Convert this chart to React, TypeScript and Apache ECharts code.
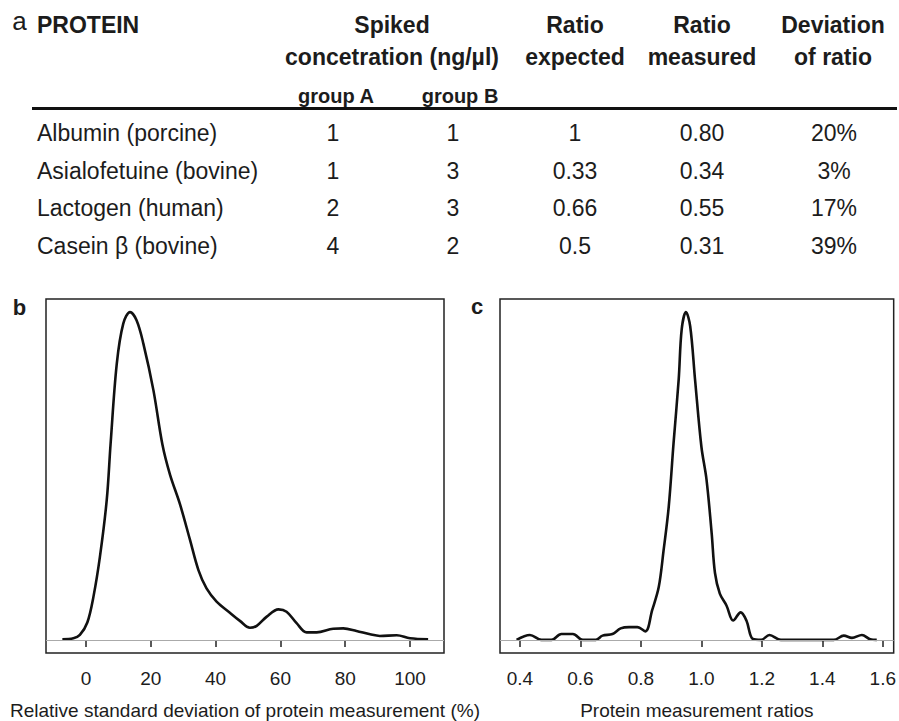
import React, { useEffect, useRef } from "react";
import * as echarts from "echarts";

const FONT = '"Liberation Sans", Arial, Helvetica, sans-serif';
const INK = "#1c1c1c";

// ---- Table (panel a) ----
const proteins = ["Albumin (porcine)", "Asialofetuine (bovine)", "Lactogen (human)", "Casein β (bovine)"];
const groupA = ["1", "1", "2", "4"];
const groupB = ["1", "3", "3", "2"];
const ratioExpected = ["1", "0.33", "0.66", "0.5"];
const ratioMeasured = ["0.80", "0.34", "0.55", "0.31"];
const ratioDeviation = ["20%", "3%", "17%", "39%"];
const headerLine1 = ["Spiked", "Ratio", "Ratio", "Deviation"];
const headerLine2 = ["concetration (ng/µl)", "expected", "measured", "of ratio"];
const subHeaders = ["group A", "group B"];

// ---- Panel b: density of relative standard deviation (%) ----
const rsdX = [-7.3, -3.9, -1.9, 0.4, 2.3, 4.3, 6.4, 7.6, 9.5, 11.5, 13.6, 15.6, 17.7, 20.8, 23.6, 25.9, 29.0, 32.1, 34.7, 37.2, 40.3, 44.4, 47.5, 50.6, 52.7, 55.8, 59.4, 61.9, 65.0, 68.1, 71.2, 76.3, 79.4, 83.5, 87.7, 90.7, 95.9, 100.0, 105.6];
const rsdDensity = [0.002, 0.005, 0.015, 0.053, 0.132, 0.254, 0.427, 0.6, 0.843, 0.965, 1.0, 0.975, 0.904, 0.762, 0.595, 0.505, 0.414, 0.305, 0.213, 0.157, 0.117, 0.083, 0.058, 0.037, 0.043, 0.071, 0.093, 0.086, 0.051, 0.023, 0.023, 0.034, 0.035, 0.027, 0.017, 0.012, 0.014, 0.005, 0.002];
const rsdTicks = [0, 20, 40, 60, 80, 100];

// ---- Panel c: density of protein measurement ratios ----
const ratioX = [0.389, 0.433, 0.471, 0.504, 0.537, 0.575, 0.608, 0.651, 0.673, 0.706, 0.733, 0.761, 0.788, 0.815, 0.837, 0.859, 0.875, 0.892, 0.908, 0.925, 0.935, 0.949, 0.963, 0.979, 1.0, 1.017, 1.034, 1.045, 1.061, 1.083, 1.105, 1.13, 1.149, 1.17, 1.198, 1.225, 1.263, 1.438, 1.471, 1.498, 1.531, 1.558, 1.58];
const ratioDensity = [0, 0.015, 0, 0, 0.018, 0.018, 0, 0, 0.013, 0.018, 0.035, 0.039, 0.039, 0.026, 0.09, 0.161, 0.273, 0.406, 0.6, 0.795, 0.948, 1.0, 0.957, 0.795, 0.59, 0.489, 0.326, 0.204, 0.141, 0.105, 0.059, 0.084, 0.059, 0.003, 0, 0.015, 0, 0, 0.013, 0.006, 0.015, 0.002, 0];
const ratioTicks = [0.4, 0.6, 0.8, 1.0, 1.2, 1.4, 1.6];

function txt(text: string, x: number, y: number, size: number, weight: string, align: string = "center") {
  return {
    type: "text",
    x,
    y,
    silent: true,
    style: {
      text,
      fontFamily: FONT,
      fontSize: size,
      fontWeight: weight,
      fill: INK,
      align,
      verticalAlign: "middle",
    },
  };
}

export default function App() {
  const ref = useRef<HTMLDivElement>(null);

  useEffect(() => {
    if (!ref.current) return;
    const chart = echarts.init(ref.current, undefined, { renderer: "svg" });

    const colX = [333, 453, 575, 702, 834];
    const headX = [392, 575, 702, 833];
    const rowY0 = 133;
    const rowStep = 37.7;

    const graphics: any[] = [];
    graphics.push(txt("a", 19.5, 21, 26, "normal"));
    graphics.push(txt("PROTEIN", 37, 24.5, 23, "bold", "left"));
    headerLine1.forEach((h, i) => graphics.push(txt(h, headX[i], 24.5, 23, "bold")));
    headerLine2.forEach((h, i) => graphics.push(txt(h, headX[i], 57, 23, "bold")));
    subHeaders.forEach((h, i) => graphics.push(txt(h, i === 0 ? 336 : 460, 96, 20, "bold")));
    graphics.push({
      type: "line",
      silent: true,
      shape: { x1: 32, y1: 108.5, x2: 897, y2: 108.5 },
      style: { stroke: "#111", lineWidth: 3 },
    });
    proteins.forEach((p, r) => {
      const y = rowY0 + r * rowStep;
      graphics.push(txt(p, 37, y, 23, "normal", "left"));
      const cells = [groupA[r], groupB[r], ratioExpected[r], ratioMeasured[r], ratioDeviation[r]];
      cells.forEach((c, k) => graphics.push(txt(c, colX[k], y, 23, "normal")));
    });
    graphics.push(txt("b", 19.5, 307.5, 22, "bold"));
    graphics.push(txt("c", 477, 306, 22, "bold"));

    const xAxisCommon = (ticks: number[], fmt: (v: number) => string, name: string, min: number, max: number, gridIndex: number) => ({
      type: "value",
      gridIndex,
      min,
      max,
      name,
      nameLocation: "middle",
      nameGap: 48,
      nameTextStyle: { fontFamily: FONT, fontSize: 19, color: INK },
      splitLine: { show: false },
      axisLine: { show: false },
      axisTick: { show: true, inside: false, length: 7, customValues: ticks, lineStyle: { color: "#222", width: 1.5 } },
      axisLabel: { show: true, customValues: ticks, formatter: fmt, margin: 16, fontFamily: FONT, fontSize: 19, color: INK },
    });

    const yAxisCommon = (gridIndex: number) => ({
      type: "value",
      gridIndex,
      min: -0.04,
      max: 1.04,
      show: false,
      splitLine: { show: false },
    });

    const baseline = {
      silent: true,
      symbol: "none",
      label: { show: false },
      emphasis: { disabled: true },
      lineStyle: { color: "#aaaaaa", width: 1, type: "solid" },
      data: [{ yAxis: 0 }],
    };

    chart.setOption({
      animation: false,
      backgroundColor: "#ffffff",
      grid: [
        { left: 46, top: 299, width: 398, height: 354, show: true, borderColor: "#222", borderWidth: 1.5, backgroundColor: "transparent" },
        { left: 500, top: 299, width: 397, height: 354, show: true, borderColor: "#222", borderWidth: 1.5, backgroundColor: "transparent" },
      ],
      xAxis: [
        xAxisCommon(rsdTicks, (v: number) => String(v), "Relative standard deviation of protein measurement (%)", -12.35, 110.5, 0),
        xAxisCommon(ratioTicks, (v: number) => v.toFixed(1), "Protein measurement ratios", 0.334, 1.636, 1),
      ],
      yAxis: [yAxisCommon(0), yAxisCommon(1)],
      series: [
        {
          type: "line",
          xAxisIndex: 0,
          yAxisIndex: 0,
          showSymbol: false,
          smooth: 0.35,
          lineStyle: { color: "#111", width: 2.6 },
          itemStyle: { color: "#111" },
          data: rsdX.map((x, i) => [x, rsdDensity[i]]),
          markLine: baseline,
        },
        {
          type: "line",
          xAxisIndex: 1,
          yAxisIndex: 1,
          showSymbol: false,
          smooth: 0.35,
          lineStyle: { color: "#111", width: 2.6 },
          itemStyle: { color: "#111" },
          data: ratioX.map((x, i) => [x, ratioDensity[i]]),
          markLine: baseline,
        },
      ],
      graphic: graphics,
    });

    return () => chart.dispose();
  }, []);

  return <div ref={ref} style={{ position: "absolute", left: 0, top: 0, width: 899, height: 721 }} />;
}
